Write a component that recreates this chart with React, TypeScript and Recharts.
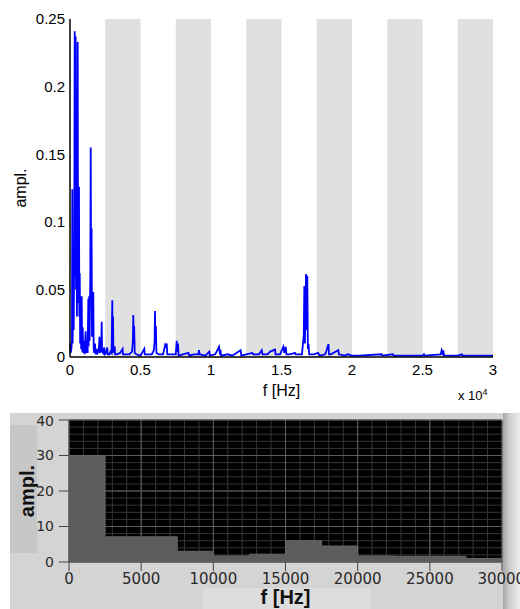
import { LineChart, Line, AreaChart, Area, XAxis, YAxis, CartesianGrid, ReferenceArea } from "recharts"

// upper plot: amplitude spectrum, [frequency Hz, amplitude]
const spectrum: [number, number][] = [
  [0, 0.01], [40, 0.003], [100, 0.006], [140, 0.012], [163, 0.124], [185, 0.01],
  [230, 0.05], [260, 0.02], [300, 0.08], [333, 0.241], [350, 0.06], [380, 0.12],
  [404, 0.237], [425, 0.05], [460, 0.11], [490, 0.03], [520, 0.09], [546, 0.233],
  [570, 0.04], [600, 0.08], [638, 0.126], [660, 0.03], [690, 0.062], [720, 0.01],
  [760, 0.035], [790, 0.006], [830, 0.045], [860, 0.004], [900, 0.022], [940, 0.003],
  [990, 0.012], [1040, 0.002], [1110, 0.019], [1150, 0.003], [1200, 0.01], [1250, 0.003],
  [1300, 0.043], [1320, 0.008], [1360, 0.045], [1390, 0.012], [1440, 0.06], [1470, 0.155],
  [1500, 0.04], [1530, 0.095], [1560, 0.015], [1620, 0.047], [1650, 0.048], [1680, 0.006],
  [1720, 0.003], [1773, 0.01], [1810, 0.002], [1880, 0.006], [1920, 0.002], [2000, 0.004],
  [2060, 0.008], [2090, 0.015], [2120, 0.003], [2180, 0.005], [2230, 0.015], [2250, 0.026],
  [2275, 0.004], [2350, 0.003], [2430, 0.007], [2460, 0.002], [2560, 0.003], [2640, 0.007],
  [2680, 0.002], [2800, 0.002], [2880, 0.004], [2950, 0.003], [3000, 0.042], [3020, 0.01],
  [3050, 0.03], [3080, 0.003], [3170, 0.008], [3200, 0.002], [3300, 0.002], [3560, 0.003],
  [3730, 0.006], [3760, 0.002], [4000, 0.002], [4200, 0.002], [4400, 0.004], [4460, 0.012],
  [4490, 0.031], [4520, 0.01], [4550, 0.023], [4590, 0.003], [4700, 0.002], [5000, 0.001],
  [5270, 0.006], [5300, 0.002], [5500, 0.002], [5800, 0.002], [5950, 0.005], [6000, 0.012],
  [6030, 0.034], [6060, 0.01], [6090, 0.023], [6130, 0.003], [6300, 0.002], [6600, 0.002],
  [6750, 0.009], [6800, 0.008], [6860, 0.01], [6900, 0.002], [7200, 0.002], [7500, 0.002],
  [7570, 0.012], [7600, 0.004], [7660, 0.01], [7700, 0.001], [8000, 0.002], [8400, 0.003],
  [8450, 0.001], [8800, 0.002], [9100, 0.002], [9150, 0.005], [9200, 0.002], [9600, 0.001],
  [9880, 0.004], [9920, 0.001], [10300, 0.002], [10570, 0.0075], [10620, 0.003], [10680, 0.004],
  [10720, 0.001], [11200, 0.002], [11500, 0.001], [12100, 0.005], [12150, 0.001], [12500, 0.002],
  [12930, 0.003], [13000, 0.002], [13400, 0.002], [13600, 0.005], [13650, 0.002], [14000, 0.002],
  [14200, 0.004], [14540, 0.0055], [14580, 0.002], [14900, 0.002], [15130, 0.0076], [15200, 0.003],
  [15300, 0.0076], [15350, 0.002], [15600, 0.002], [15960, 0.003], [16000, 0.002], [16450, 0.002],
  [16580, 0.016], [16620, 0.0525], [16660, 0.01], [16740, 0.0614], [16790, 0.02], [16830, 0.06],
  [16870, 0.006], [16920, 0.0096], [16960, 0.002], [17300, 0.002], [17600, 0.003], [17700, 0.001],
  [18100, 0.002], [18200, 0.005], [18330, 0.0096], [18370, 0.002], [18500, 0.002], [19030, 0.005],
  [19070, 0.002], [19500, 0.001], [19700, 0.002], [20000, 0.001], [20500, 0.001], [22100, 0.002],
  [22150, 0.001], [22900, 0.002], [22950, 0.001], [25000, 0.001], [25100, 0.002], [25150, 0.001],
  [26300, 0.002], [26360, 0.005], [26420, 0.003], [26480, 0.005], [26520, 0.001], [27500, 0.001],
  [27800, 0.002], [27850, 0.001], [28500, 0.001], [30000, 0.001],
]
const topTicksX = [0, 5000, 10000, 15000, 20000, 25000, 30000]
const topTicksY = [0, 0.05, 0.1, 0.15, 0.2, 0.25]
const shadedBands: [number, number][] = [
  [2500, 5000], [7500, 10000], [12500, 15000], [17500, 20000], [22500, 25000], [27500, 30000],
]

// lower plot: band levels, one per 2500 Hz bin
const binEdges = [0, 2500, 5000, 7500, 10000, 12500, 15000, 17500, 20000, 22500, 25000, 27500, 30000]
const binLevels = [30, 7.1, 7.1, 3, 1.7, 2.2, 6, 4.5, 1.7, 1.6, 1.6, 1]
const bottomTicksX = [0, 5000, 10000, 15000, 20000, 25000, 30000]
const bottomTicksY = [0, 10, 20, 30, 40]
const minorTicksX = [
  0, 1000, 2000, 3000, 4000, 5000, 6000, 7000, 8000, 9000, 10000, 11000, 12000, 13000, 14000, 15000,
  16000, 17000, 18000, 19000, 20000, 21000, 22000, 23000, 24000, 25000, 26000, 27000, 28000, 29000, 30000,
]
const minorTicksY = [0, 2, 4, 6, 8, 10, 12, 14, 16, 18, 20, 22, 24, 26, 28, 30, 32, 34, 36, 38, 40]
const fMax = 30000
const levelMax = 40

const sans = "'Liberation Sans', Arial, sans-serif"

const spectrumData = spectrum.map(([f, a]) => ({ f, a }))
const stepData = binEdges.map((f, i) => ({ f, a: binLevels[Math.min(i, binLevels.length - 1)] }))

// minor grid lines: use the axis scale when Recharts hands one over, else the plot box
const minorVertical = ({ xAxis, offset }: any) =>
  minorTicksX.map((v) =>
    xAxis && typeof xAxis.scale === "function" ? xAxis.scale(v) : offset.left + (v / fMax) * offset.width
  )
const minorHorizontal = ({ yAxis, offset }: any) =>
  minorTicksY.map((v) =>
    yAxis && typeof yAxis.scale === "function" ? yAxis.scale(v) : offset.top + (1 - v / levelMax) * offset.height
  )

export default function App() {
  return (
    <div style={{ position: "absolute", left: 0, top: 0, width: 520, height: 609, background: "#fff", overflow: "hidden" }}>
      <div style={{ position: "absolute", left: 0, top: 0 }}>
        <LineChart width={520} height={400} data={spectrumData} margin={{ top: 19, right: 27, bottom: 0, left: 0 }}>
          {shadedBands.map(([a, b]) => (
            <ReferenceArea key={a} x1={a} x2={b} fill="#e0e0e0" fillOpacity={1} stroke="none" />
          ))}
          <XAxis
            dataKey="f"
            type="number"
            domain={[0, fMax]}
            ticks={topTicksX}
            tickFormatter={(v: number) => String(v / 10000)}
            height={43}
            tickLine={false}
            tickSize={4}
            tickMargin={3}
            axisLine={{ stroke: "#000", strokeWidth: 1.5 }}
            tick={{ fill: "#000", fontSize: 15, fontFamily: sans }}
            label={{ value: "f [Hz]", position: "insideBottom", offset: 4, fill: "#000", fontSize: 16, fontFamily: sans }}
          />
          <XAxis xAxisId="top" orientation="top" type="number" domain={[0, fMax]} height={0} tick={false} tickLine={false} axisLine={{ stroke: "#000" }} />
          <YAxis
            type="number"
            domain={[0, 0.25]}
            ticks={topTicksY}
            width={70}
            tickLine={false}
            tickSize={3}
            tickMargin={2}
            axisLine={{ stroke: "#000", strokeWidth: 1.5 }}
            tick={{ fill: "#000", fontSize: 15, fontFamily: sans }}
            label={{ value: "ampl.", angle: -90, position: "insideLeft", offset: 20, fill: "#000", fontSize: 16, fontFamily: sans, style: { textAnchor: "middle" } }}
          />
          <YAxis yAxisId="right" orientation="right" type="number" domain={[0, 0.25]} width={0} tick={false} tickLine={false} axisLine={{ stroke: "#999" }} />
          <Line type="linear" dataKey="a" stroke="#0000ff" strokeWidth={1.8} dot={false} isAnimationActive={false} />
        </LineChart>
        <div style={{ position: "absolute", left: 458, top: 387, fontFamily: sans, fontSize: 13, color: "#000" }}>
          x 10<sup style={{ fontSize: 9 }}>4</sup>
        </div>
      </div>

      {/* LabVIEW-like panel */}
      <div style={{ position: "absolute", left: 10, top: 413, width: 510, height: 196, background: "#d4d4d4" }} />
      <div style={{ position: "absolute", left: 503, top: 413, width: 17, height: 196, background: "linear-gradient(to right, #a4a4a4, #cfcfcf 40%, #ececec)" }} />
      <div style={{ position: "absolute", left: 10, top: 425, width: 27, height: 128, background: "#c6c6c6" }} />
      <div style={{ position: "absolute", left: 203, top: 588, width: 167, height: 21, background: "#dddddd" }} />
      <div style={{ position: "absolute", left: 0, top: 413 }}>
        <AreaChart width={520} height={196} data={stepData} margin={{ top: 7, right: 18, bottom: 0, left: 0 }}>
          <CartesianGrid
            stroke="#363636"
            fill="#000"
            fillOpacity={1}
            verticalCoordinatesGenerator={minorVertical}
            horizontalCoordinatesGenerator={minorHorizontal}
          />
          <CartesianGrid stroke="#5e5e5e" />
          <XAxis
            dataKey="f"
            type="number"
            domain={[0, fMax]}
            ticks={bottomTicksX}
            height={47}
            tickSize={9}
            tickMargin={2}
            tickLine={{ stroke: "#444" }}
            axisLine={false}
            tick={{ fill: "#2a2a2a", fontSize: 15, fontFamily: "'DejaVu Sans', sans-serif" }}
            label={{ value: "f [Hz]", position: "insideBottom", offset: 5, fill: "#111", fontSize: 20, fontWeight: "bold", fontFamily: sans }}
          />
          <YAxis
            type="number"
            domain={[0, levelMax]}
            ticks={bottomTicksY}
            width={69}
            tickSize={10}
            tickMargin={5}
            tickLine={{ stroke: "#444" }}
            axisLine={false}
            tick={{ fill: "#2a2a2a", fontSize: 14, fontFamily: "'DejaVu Sans', sans-serif" }}
            label={{ value: "ampl.", angle: -90, position: "insideLeft", offset: 27, fill: "#111", fontSize: 20, fontWeight: "bold", fontFamily: sans, style: { textAnchor: "middle" } }}
          />
          <Area type="stepAfter" dataKey="a" fill="#5c5c5c" fillOpacity={1} stroke="#666" strokeWidth={1} isAnimationActive={false} />
        </AreaChart>
      </div>
    </div>
  )
}
